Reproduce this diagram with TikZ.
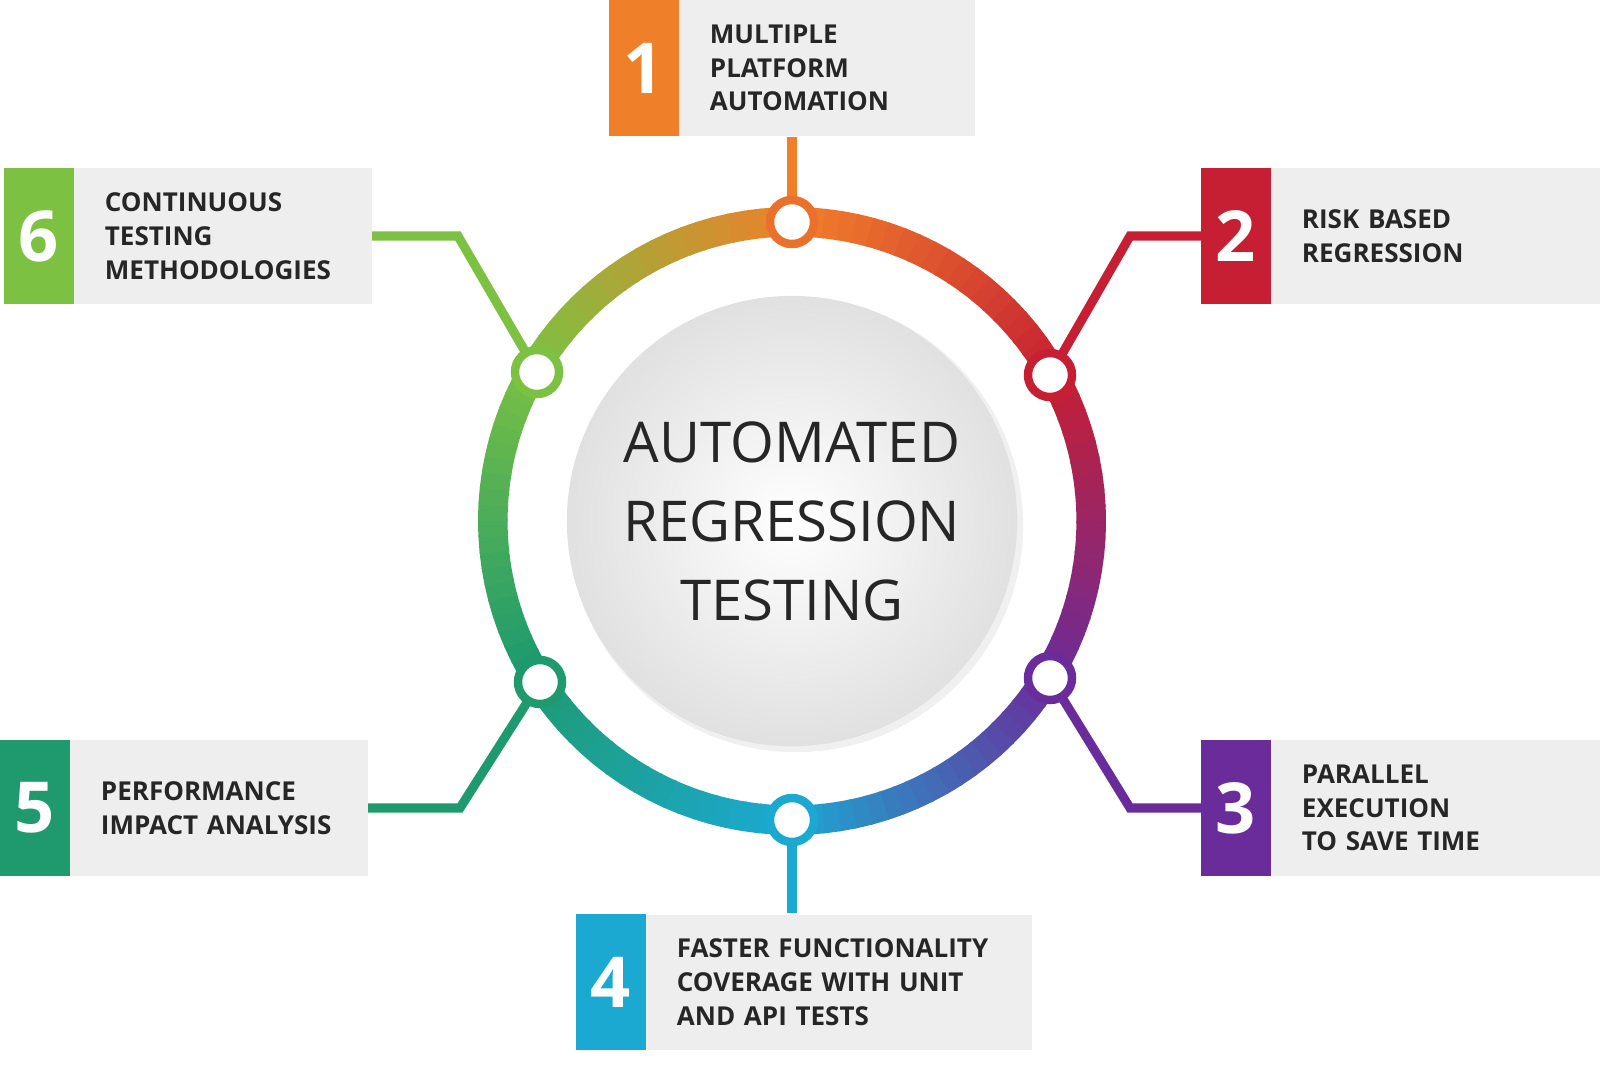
\documentclass[tikz,border=0pt]{standalone}
\usepackage{fontspec}
\setmainfont{Open Sans}
\usetikzlibrary{calc}
\definecolor{cone}{HTML}{F07F2A}
\definecolor{ctwo}{HTML}{C61F33}
\definecolor{cthree}{HTML}{6A2C9A}
\definecolor{cfour}{HTML}{1BA9D2}
\definecolor{cfive}{HTML}{1E9A6E}
\definecolor{csix}{HTML}{7CC142}
\definecolor{boxgray}{HTML}{EEEEEE}
\tikzset{
  num/.style={fill=#1, text=white, font=\bfseries\fontsize{20}{20}\selectfont, minimum width=0.69cm, minimum height=1.36cm, inner sep=0pt},
  lbl/.style={text=black!85, font=\bfseries\fontsize{7.4}{9.6}\selectfont, align=left, inner sep=0pt, text width=#1, anchor=west},
  hub/.style={circle, draw=#1, line width=2.4pt, fill=white, minimum size=0.44cm, inner sep=0pt},
  link/.style={draw=#1, line width=2.6pt}
}
\begin{document}
\begin{tikzpicture}[x=0.01cm,y=-0.01cm]
\useasboundingbox (0,0) rectangle (1600,1072);
\fill[white] (0,0) rectangle (1600,1072);
\coordinate (c) at (792,521);
\def\rr{2.99cm}
% ring
\foreach \a/\b/\ca/\cb in {90/30/cone/ctwo,30/-30/ctwo/cthree,-30/-90/cthree/cfour,-90/-150/cfour/cfive,-150/-210/cfive/csix,-210/-270/csix/cone}{
  \foreach \k in {0,...,19}{
    \pgfmathsetmacro\p{100-5*\k}
    \pgfmathsetmacro\s{\a+(\b-\a)*\k/20}
    \pgfmathsetmacro\e{\a+(\b-\a)*(\k+1.15)/20}
    \draw[line width=8.4pt, \ca!\p!\cb] ($(c)+(\s:\rr)$) arc[start angle=\s, end angle=\e, radius=\rr];
  }
}
\fill[black!6] ($(c)+(0.04cm,-0.04cm)$) circle (2.27cm);
\shade[inner color=white, outer color=black!12] (c) circle (2.25cm);
\node[font=\fontsize{16}{22.5}\selectfont, text=black!85, align=center] (title) at (c) {AUTOMATED\\REGRESSION\\TESTING};
% boxes
\fill[boxgray] (678,0) rectangle (975,136);
\fill[boxgray] (1270,168) rectangle (1600,304);
\fill[boxgray] (1270,740) rectangle (1600,876);
\fill[boxgray] (646,915) rectangle (1032,1050);
\fill[boxgray] (70,740) rectangle (368,876);
\fill[boxgray] (74,168) rectangle (372,304);
\node[num=cone] (n1) at (644,68) {1};
\node[lbl=2.7cm] (t1) at ($(n1.east)+(30,0)$) {MULTIPLE\\PLATFORM\\AUTOMATION};
\node[num=ctwo] (n2) at (1236,236) {2};
\node[lbl=2.7cm] (t2) at ($(n2.east)+(30,0)$) {RISK BASED\\REGRESSION};
\node[num=cthree] (n3) at (1236,808) {3};
\node[lbl=2.7cm] (t3) at ($(n3.east)+(30,0)$) {PARALLEL\\EXECUTION\\TO SAVE TIME};
\node[num=cfour] (n4) at (611,982) {4};
\node[lbl=3.56cm] (t4) at ($(n4.east)+(30,0)$) {FASTER FUNCTIONALITY\\COVERAGE WITH UNIT\\AND API TESTS};
\node[num=cfive] (n5) at (35,808) {5};
\node[lbl=2.68cm] (t5) at ($(n5.east)+(30,0)$) {PERFORMANCE\\IMPACT ANALYSIS};
\node[num=csix] (n6) at (39,236) {6};
\node[lbl=2.68cm] (t6) at ($(n6.east)+(30,0)$) {CONTINUOUS\\TESTING\\METHODOLOGIES};
% hubs and links
\coordinate (h1) at (792,222);
\coordinate (h2) at (1050,375);
\coordinate (h3) at (1050,678);
\coordinate (h4) at (792,820);
\coordinate (h5) at (540,682);
\coordinate (h6) at (537,372);
\coordinate (e5) at (368,808);
\coordinate (e6) at (372,236);
\draw[link=cone] (h1) -- (n1.south -| h1);
\draw[link=ctwo] (h2) -- (1130,236) -- (n2.west);
\draw[link=cthree] (h3) -- (1130,808) -- (n3.west);
\draw[link=cfour] (h4) -- (n4.north -| h4);
\draw[link=cfive] (h5) -- (460,808) -- (e5);
\draw[link=csix] (h6) -- (458,236) -- (e6);
\node[hub=cone!85!ctwo] at (h1) {};
\node[hub=ctwo] at (h2) {};
\node[hub=cthree] at (h3) {};
\node[hub=cfour] at (h4) {};
\node[hub=cfive] at (h5) {};
\node[hub=csix] at (h6) {};
\end{tikzpicture}
\end{document}
